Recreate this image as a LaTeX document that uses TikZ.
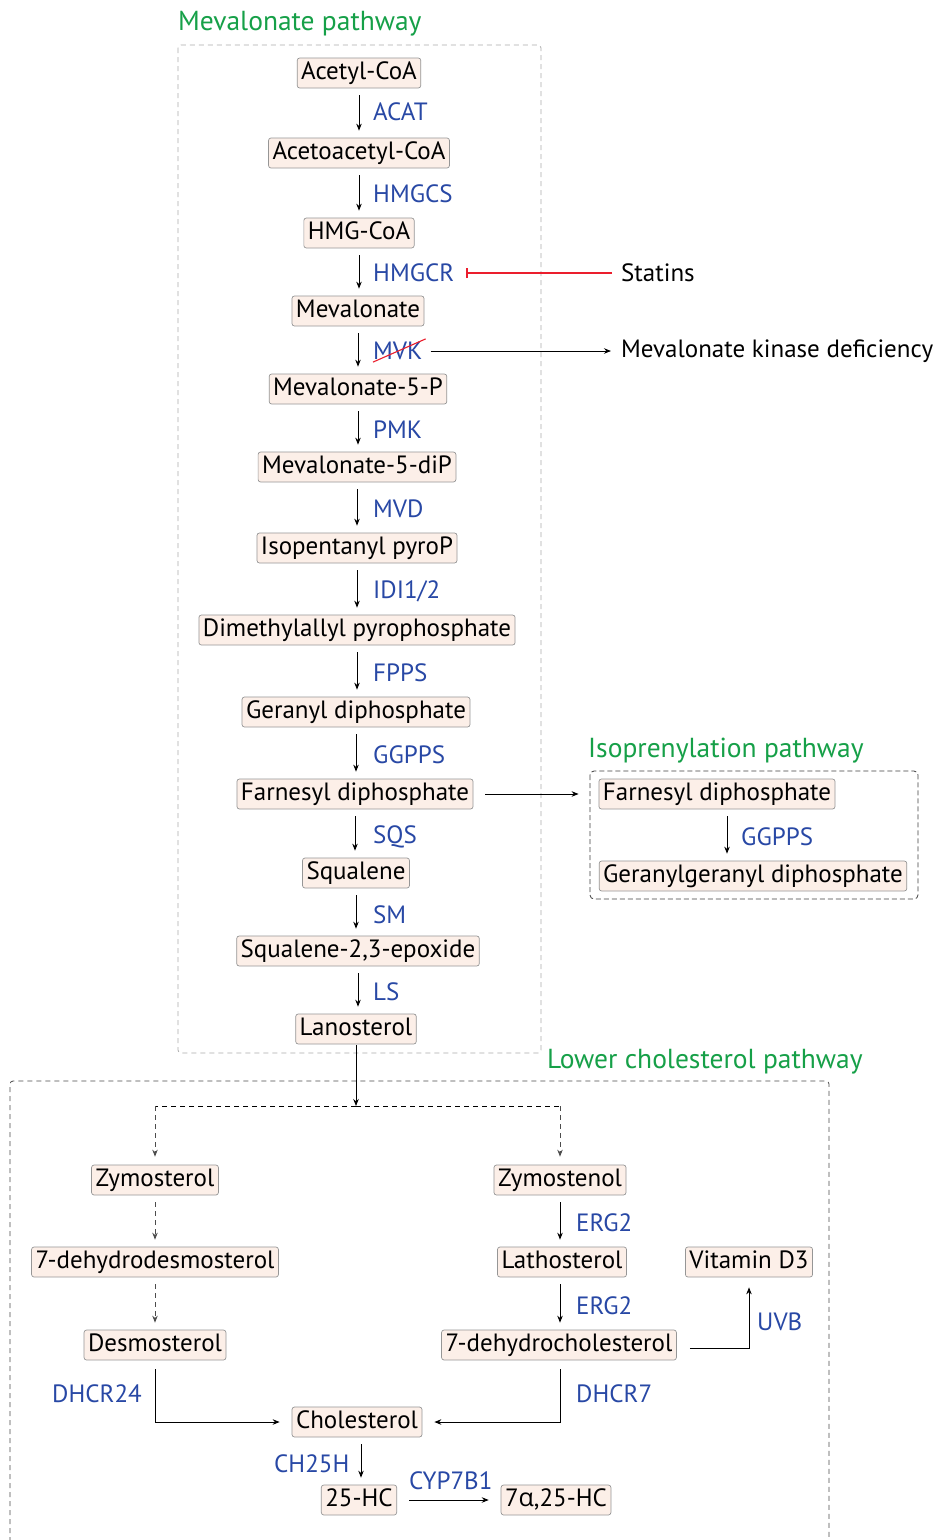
\documentclass[tikz,border=0pt]{standalone}
\usepackage{fontspec}
\setmainfont{PT Sans}
\newfontfamily\grk{Open Sans}
\usetikzlibrary{arrows.meta,calc}
\definecolor{peach}{RGB}{252,239,232}
\definecolor{boxgray}{RGB}{150,150,150}
\definecolor{enzblue}{RGB}{40,72,165}
\definecolor{titlegreen}{RGB}{22,160,72}
\definecolor{inhred}{RGB}{235,30,45}
\newcommand{\mainsz}{\fontsize{25}{28}\selectfont}
\newcommand{\titlesz}{\fontsize{27.5}{31}\selectfont}
\begin{document}
\begin{tikzpicture}[x=1pt,y=-1pt,
  mol/.style={draw=boxgray, line width=0.7pt, rounded corners=2.5pt, fill=peach, inner xsep=4pt, inner ysep=0pt, minimum height=30pt, text height=18pt, text depth=5pt, font=\mainsz},
  enz/.style={text=enzblue, anchor=west, inner sep=0pt, font=\mainsz},
  plain/.style={anchor=west, inner sep=0pt, font=\mainsz},
  ttl/.style={text=titlegreen, anchor=west, inner sep=0pt, font=\titlesz},
  arr/.style={-{Stealth[length=7pt,width=5.5pt]}, line width=1pt},
  darr/.style={-{Stealth[length=7pt,width=5.5pt]}, line width=0.9pt, dash pattern=on 5pt off 4pt},
  sdown/.style={shorten <=7pt, shorten >=7pt}
]
\useasboundingbox[fill=white] (0,0) rectangle (938,1540);

% frames
\draw[boxgray!80, line width=0.8pt, dash pattern=on 5pt off 4pt, rounded corners=3pt]
  (178,45) rectangle (541,1053);
\draw[black!75, line width=0.8pt, dash pattern=on 5pt off 3pt, rounded corners=4pt]
  (590,771) rectangle (918,899);
\draw[black!70, line width=0.8pt, dash pattern=on 5pt off 4pt, rounded corners=3pt]
  (10,1560) -- (10,1081) -- (829,1081) -- (829,1560);

% titles
\node[ttl] (tmev) at (178,24) {Mevalonate pathway};
\node[ttl] (tiso) at (588,751) {Isoprenylation pathway};
\node[ttl] (tlow) at (547,1062) {Lower cholesterol pathway};

% mevalonate chain
\node[mol] (acoa) at (359,73) {Acetyl-CoA};
\node[mol] (aacoa) at (359,153) {Acetoacetyl-CoA};
\node[mol] (hmg) at (359,233) {HMG-CoA};
\node[mol] (mev) at (358,311) {Mevalonate};
\node[mol] (mev5p) at (358,389) {Mevalonate-5-P};
\node[mol] (mev5pp) at (357,467) {Mevalonate-5-diP};
\node[mol] (ipp) at (357,548) {Isopentanyl pyroP};
\node[mol] (dmapp) at (357,630) {Dimethylallyl pyrophosphate};
\node[mol] (gpp) at (356,712) {Geranyl diphosphate};
\node[mol] (fpp) at (355,794) {Farnesyl diphosphate};
\node[mol] (sq) at (356,873) {Squalene};
\node[mol] (sqe) at (358,951) {Squalene-2,3-epoxide};
\node[mol] (lano) at (356,1029) {Lanosterol};

\node[enz] (acat) at (373,112) {ACAT};
\node[enz] (hmgcs) at (373,194) {HMGCS};
\node[enz] (hmgcr) at (373,273) {HMGCR};
\node[enz] (mvk) at (373,351) {MVK};
\node[enz] (pmk) at (373,430) {PMK};
\node[enz] (mvd) at (373,509) {MVD};
\node[enz] (idi) at (373,591) {IDI1/2};
\node[enz] (fpps) at (373,673) {FPPS};
\node[enz] (ggpps) at (373,755) {GGPPS};
\node[enz] (sqs) at (373,837) {SQS};
\node[enz] (sm) at (373,915) {SM};
\node[enz] (ls) at (373,992) {LS};

\draw[arr,sdown] (acoa.south) -- (acoa.south |- aacoa.north);
\draw[arr,sdown] (aacoa.south) -- (aacoa.south |- hmg.north);
\draw[arr,sdown] (hmg.south) -- (hmg.south |- mev.north);
\draw[arr,sdown] (mev.south) -- (mev.south |- mev5p.north);
\draw[arr,sdown] (mev5p.south) -- (mev5p.south |- mev5pp.north);
\draw[arr,sdown] (mev5pp.south) -- (mev5pp.south |- ipp.north);
\draw[arr,sdown] (ipp.south) -- (ipp.south |- dmapp.north);
\draw[arr,sdown] (dmapp.south) -- (dmapp.south |- gpp.north);
\draw[arr,sdown] (gpp.south) -- (gpp.south |- fpp.north);
\draw[arr,sdown] (fpp.south) -- (fpp.south |- sq.north);
\draw[arr,sdown] (sq.south) -- (sq.south |- sqe.north);
\draw[arr,sdown] (sqe.south) -- (sqe.south |- lano.north);

% statins and MVK deficiency
\node[plain] (statins) at (621,273) {Statins};
\node[plain] (mkd) at (621,351) {Mevalonate kinase deficiency};
\draw[draw=inhred, line width=1.2pt, -{Bar[width=10pt,line width=1.2pt]}, shorten <=9pt, shorten >=12pt] (statins.west) -- (hmgcr.east);
\draw[inhred, line width=1.1pt] ($(mvk.south west)+(0,2)$) -- ($(mvk.north east)+(3,-3)$);
\draw[arr, shorten <=8pt, shorten >=10pt] (mvk.east) -- (mkd.west);

% isoprenylation
\node[mol] (fpp2) at (717,794) {Farnesyl diphosphate};
\node[mol] (ggpp) at (753,876) {Geranylgeranyl diphosphate};
\node[enz] (ggpps2) at (741,837) {GGPPS};
\coordinate (g1) at ($(fpp2.south)+(10,0)$);
\draw[arr, sdown] (g1) -- (g1 |- ggpp.north);
\draw[arr, shorten <=12pt, shorten >=20pt] (fpp.east) -- (fpp2.west);

% lower pathway
\coordinate (split) at (356,1106);
\node[mol] (zyml) at (155,1180) {Zymosterol};
\node[mol] (dhd) at (155,1262) {7-dehydrodesmosterol};
\node[mol] (desm) at (155,1345) {Desmosterol};
\node[mol] (zymn) at (560,1180) {Zymostenol};
\node[mol] (lath) at (562,1262) {Lathosterol};
\node[mol] (dhc) at (559,1345) {7-dehydrocholesterol};
\node[mol] (vitd) at (749,1262) {Vitamin D3};
\node[mol] (chol) at (357,1422) {Cholesterol};
\node[mol] (hc25) at (359,1500) {25-HC};
\node[mol] (hc725) at (556,1500) {7{\grk α},25-HC};

\node[enz] (erg2a) at (576,1223) {ERG2};
\node[enz] (erg2b) at (576,1306) {ERG2};
\node[enz] (uvb) at (757,1322) {UVB};
\node[enz] (dhcr24) at (52,1394) {DHCR24};
\node[enz] (dhcr7) at (576,1394) {DHCR7};
\node[enz] (ch25h) at (274,1464) {CH25H};
\node[enz] (cyp) at (409,1481) {CYP7B1};

\draw[arr, shorten <=1pt] (lano.south) -- (split);
\draw[line width=0.9pt, dash pattern=on 5pt off 4pt] (split) -- (split -| zyml.north);
\draw[line width=0.9pt, dash pattern=on 5pt off 4pt] (split) -- (split -| zymn.north);
\draw[darr, black!70, shorten >=8pt] (split -| zyml.north) -- (zyml.north);
\draw[darr, black!70, shorten >=8pt] (split -| zymn.north) -- (zymn.north);
\draw[darr, black!70, sdown] (zyml.south) -- (dhd.north);
\draw[darr, black!70, sdown] (dhd.south) -- (desm.north);
\draw[arr, sdown] (zymn.south) -- (zymn.south |- lath.north);
\draw[arr, sdown] (zymn.south |- lath.south) -- (zymn.south |- dhc.north);
\draw[arr, shorten <=9pt, shorten >=12pt] (desm.south) |- (chol.west);
\coordinate (d7) at ($(dhc.south)+(1,0)$);
\draw[arr, shorten <=9pt, shorten >=12pt] (d7) |- (chol.east);
\coordinate (uvstart) at ($(dhc.east)+(0,3)$);
\draw[arr, shorten <=13pt, shorten >=10pt] (uvstart) -| (vitd.south);
\coordinate (c1) at ($(chol.south)+(4,0)$);
\draw[arr, sdown] (c1) -- (c1 |- hc25.north);
\draw[arr, shorten <=12pt, shorten >=12pt] (hc25.east) -- (hc725.west);
\end{tikzpicture}
\end{document}
